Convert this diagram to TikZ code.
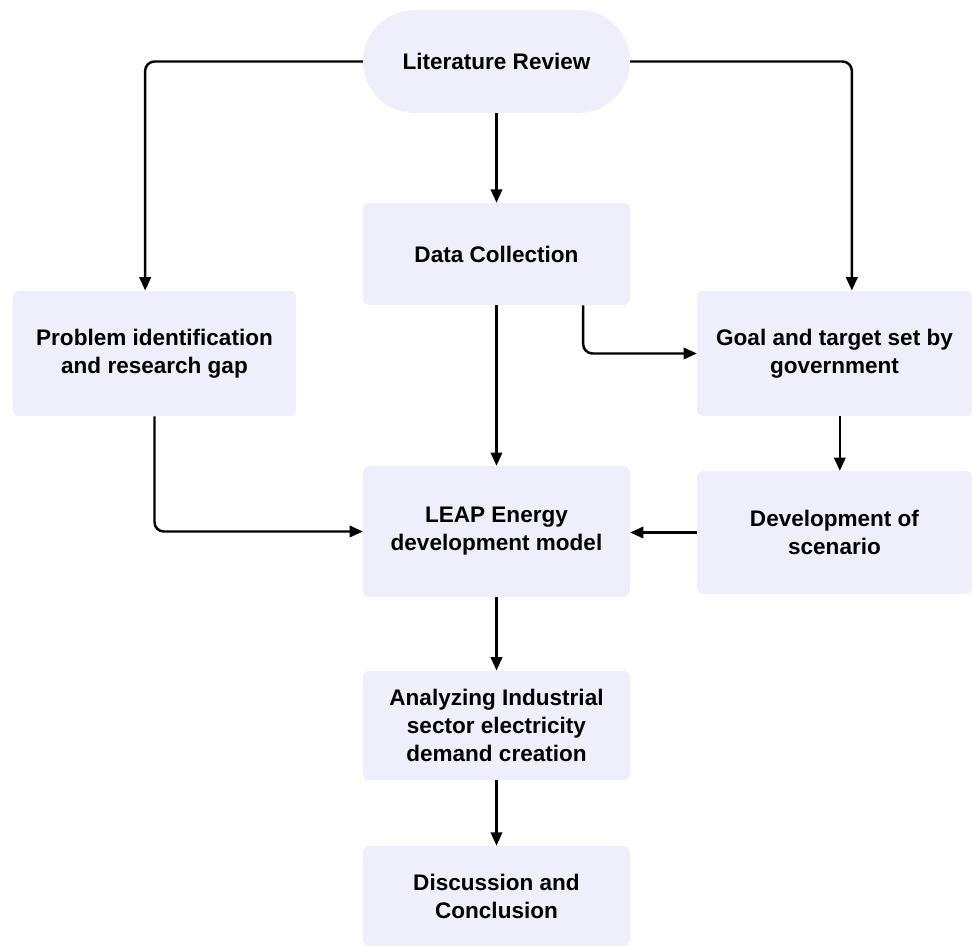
\documentclass[tikz,border=0pt]{standalone}
\usepackage{fontspec}
\setmainfont{Liberation Sans}
\usetikzlibrary{arrows.meta,calc}
\definecolor{boxfill}{HTML}{EFEFFC}
\begin{document}
\begin{tikzpicture}[x=0.75pt,y=-0.75pt,
  box/.style={fill=boxfill, draw=none, rounded corners=4pt, inner sep=0pt,
    minimum width=200pt, align=center,
    font=\bfseries\fontsize{16.9}{21}\selectfont},
  conn/.style={line width=1.85pt, rounded corners=7pt,
    -{Triangle[length=10pt,width=8.5pt]}}]
\useasboundingbox (0,0) rectangle (972,946);
\node[box, rounded corners=38pt, minimum height=77pt] (lit) at (496.5,61.5) {Literature Review};
\node[box, minimum height=76.5pt] (data) at (496.5,254) {Data Collection};
\node[box, minimum width=212pt, minimum height=94pt] (prob) at (154.5,353.5) {Problem identification\\and research gap};
\node[box, minimum width=206pt, minimum height=94pt] (goal) at (834.5,353.5) {Goal and target set by\\government};
\node[box, minimum height=98pt] (leap) at (496.5,531.5) {LEAP Energy\\development model};
\node[box, minimum width=206pt, minimum height=92pt] (dev) at (834.5,532.5) {Development of\\scenario};
\node[box, minimum height=82pt] (ana) at (496.5,725.5) {Analyzing Industrial\\sector electricity\\demand creation};
\node[box, minimum height=75pt] (disc) at (496.5,896) {Discussion and\\Conclusion};

\draw[conn] (lit.west) -| ([xshift=-7pt]prob.north);
\draw[conn] (lit.east) -| ([xshift=13pt]goal.north);
\draw[conn] (lit.south) -- (data.north);
\draw[conn] (data.south) -- (leap.north);
\draw[conn] ([xshift=65pt]data.south) |- (goal.west);
\draw[conn] (prob.south) |- (leap.west);
\draw[conn] ([xshift=4pt]goal.south) -- ([xshift=4pt]dev.north);
\draw[conn] (dev.west) -- (dev.west -| leap.east);
\draw[conn] (leap.south) -- (ana.north);
\draw[conn] (ana.south) -- (disc.north);
\end{tikzpicture}
\end{document}
